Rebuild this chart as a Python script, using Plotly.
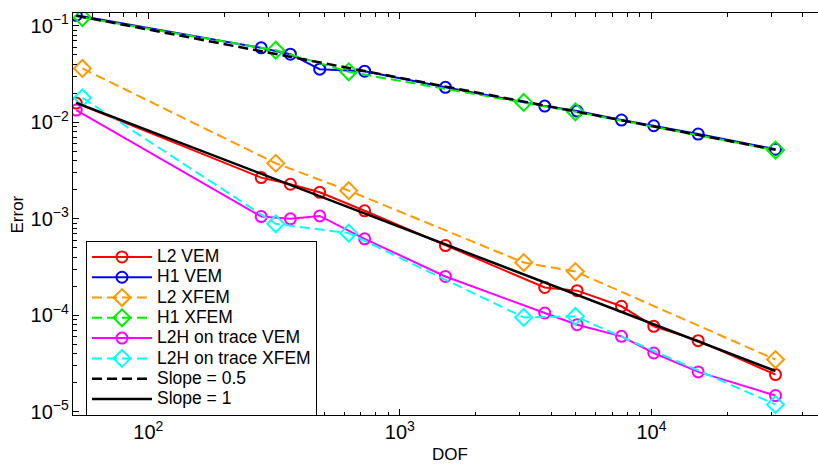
import plotly.graph_objects as go

# DOF values
dof_vem = [51.7, 281, 367, 480, 724, 1517, 3764, 5064, 7600, 10212, 15335, 31120]
dof_xfem = [54.7, 321, 626, 3106, 4986, 31120]

# VEM errors
l2_vem = [0.0158, 0.00267, 0.00228, 0.00188, 0.00121, 0.000528, 0.000194, 0.000180, 0.000124, 7.68e-5, 5.46e-5, 2.43e-5]
h1_vem = [0.1284, 0.0590, 0.0507, 0.0355, 0.0338, 0.0230, 0.0147, 0.01305, 0.01054, 0.0092, 0.00755, 0.00525]
l2h_trace_vem = [0.01337, 0.001054, 0.000998, 0.00107, 0.00062, 0.0002525, 0.0001056, 7.99e-5, 6.05e-5, 4.07e-5, 2.59e-5, 1.474e-5]

# XFEM errors
l2_xfem = [0.0361, 0.00376, 0.001957, 0.000352, 0.000284, 3.48e-5]
h1_xfem = [0.1216, 0.0558, 0.0333, 0.01606, 0.01284, 0.00515]
l2h_trace_xfem = [0.0179, 0.000886, 0.00071, 9.51e-5, 9.74e-5, 1.19e-5]

# Reference slope lines (endpoints)
slope_x = [51.7, 31120]
slope05_y = [0.127, 0.00518]
slope1_y = [0.0159, 2.65e-5]

names = ["L2 VEM", "H1 VEM", "L2 XFEM", "H1 XFEM", "L2H on trace VEM",
         "L2H on trace XFEM", "Slope = 0.5", "Slope = 1"]

FONT = "Liberation Sans, Arial, Helvetica, sans-serif"
DASH = "10px,5px"

def lab(s):
    return '<span style="font-size:17.5px">' + s + '</span>'

fig = go.Figure()

def add(x, y, name, color, symbol, dash="solid", size=11):
    fig.add_trace(go.Scatter(
        x=x, y=y, name=lab(name), mode="lines+markers",
        line=dict(color=color, width=2, dash=dash),
        marker=dict(symbol=symbol, size=size, color=color,
                    line=dict(color=color, width=2)),
    ))

add(dof_vem, l2_vem, names[0], "#ff0000", "circle-open")
add(dof_vem, h1_vem, names[1], "#0000ff", "circle-open")
add(dof_xfem, l2_xfem, names[2], "#ff9900", "diamond-open", DASH, 13)
add(dof_xfem, h1_xfem, names[3], "#00ee00", "diamond-open", DASH, 13)
add(dof_vem, l2h_trace_vem, names[4], "#ff00ff", "circle-open")
add(dof_xfem, l2h_trace_xfem, names[5], "#00ffff", "diamond-open", DASH, 13)

fig.add_trace(go.Scatter(x=slope_x, y=slope05_y, name=lab(names[6]), mode="lines",
                         line=dict(color="black", width=2.5, dash=DASH)))
fig.add_trace(go.Scatter(x=slope_x, y=slope1_y, name=lab(names[7]), mode="lines",
                         line=dict(color="black", width=2.5)))

fig.update_layout(
    width=818, height=468,
    margin=dict(l=73, r=0, t=13, b=52.5, autoexpand=False),
    paper_bgcolor="white", plot_bgcolor="white",
    font=dict(family=FONT, size=16, color="black"),
    showlegend=True,
    legend=dict(
        x=(86 - 73) / 745, y=-0.002, xanchor="left", yanchor="bottom",
        bgcolor="white", bordercolor="black", borderwidth=1,
        font=dict(family=FONT, size=13.3, color="black"),
        itemwidth=60, tracegroupgap=0,
    ),
)

fig.update_xaxes(
    type="log", range=[1.7006, 4.662], automargin=False,
    showgrid=False, zeroline=False,
    showline=True, linecolor="black", linewidth=1, mirror="ticks",
    ticks="inside", ticklen=6, tickcolor="black", dtick=1,
    exponentformat="power", showexponent="all",
    minor=dict(ticks="inside", ticklen=3.5, tickcolor="black", showgrid=False),
    tickfont=dict(family=FONT, size=16),
)
fig.update_yaxes(
    type="log", range=[-5.033, -0.868], automargin=False,
    showgrid=False, zeroline=False,
    showline=True, linecolor="black", linewidth=1, mirror=False,
    ticks="inside", ticklen=6, tickcolor="black", dtick=1,
    exponentformat="power", showexponent="all",
    minor=dict(ticks="inside", ticklen=3.5, tickcolor="black", showgrid=False),
    tickfont=dict(family=FONT, size=16),
)

fig.add_annotation(text="Error", xref="paper", yref="paper", x=-0.0745, y=0.5,
                   xanchor="center", yanchor="middle", textangle=-90,
                   showarrow=False, font=dict(family=FONT, size=17))
fig.add_annotation(text="DOF", xref="paper", yref="paper", x=(450 - 73) / 745, y=-0.098,
                   xanchor="center", yanchor="middle",
                   showarrow=False, font=dict(family=FONT, size=17))

fig.write_html("out.html",
               config={"displayModeBar": False},
               post_script="document.body.style.margin='0px';document.body.style.overflow='hidden';")
